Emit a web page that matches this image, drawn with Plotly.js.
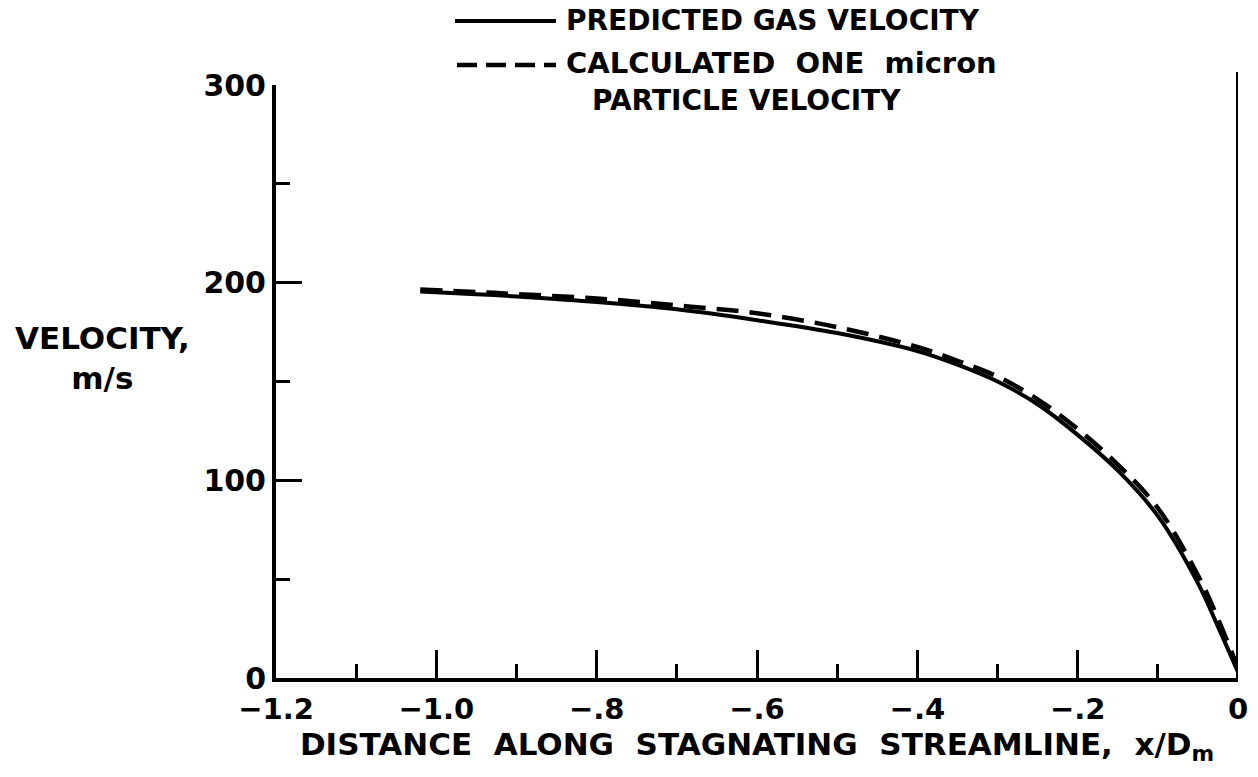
<!DOCTYPE html>
<html>
<head>
<meta charset="utf-8">
<script src="https://cdn.plot.ly/plotly-3.0.1.min.js"></script>
<style>html,body{margin:0;padding:0;background:#fff;}#chart{width:1258px;height:777px;}</style>
</head>
<body>
<div id="chart"></div>
<script>
// Distance along stagnating streamline, x/Dm
const xDist = [-1.02, -0.95, -0.9, -0.8, -0.7, -0.6, -0.5, -0.4, -0.35, -0.3, -0.25, -0.2, -0.15, -0.1, -0.05, -0.025, 0];
// Predicted gas velocity, m/s
const gasVelocity = [195.5, 194.2, 193, 190.2, 186.5, 181, 174.5, 165.4, 158.5, 150, 138.5, 123, 105, 82, 48, 26, 3];
// Calculated one micron particle velocity, m/s
const particleVelocity = [196.5, 195.3, 194.2, 192, 188.5, 184.5, 177.5, 167.5, 160.5, 152.5, 141, 126, 108, 86, 52, 30, 5];

const xTickVals = [-1.2, -1.0, -0.8, -0.6, -0.4, -0.2, 0];
const xTickText = ['\u22121.2', '\u22121.0', '\u2212.8', '\u2212.6', '\u2212.4', '\u2212.2', '0'];
const xMinorVals = [-1.1, -0.9, -0.7, -0.5, -0.3, -0.1];
const yTickVals = [0, 100, 200, 300];
const yTickText = ['0', '100', '200', '300'];
const yMinorVals = [50, 150, 250];

const legendSolid = 'PREDICTED GAS VELOCITY';
const legendDashed1 = 'CALCULATED  ONE  micron';
const legendDashed2 = 'PARTICLE VELOCITY';
const xTitle = 'DISTANCE  ALONG  STAGNATING  STREAMLINE,  x/D<sub>m</sub>';
const yTitle = 'VELOCITY,<br>m/s';

const FONT = 'DejaVu Sans, sans-serif';
const W = 1258, H = 777, L = 276, R = 20, T = 85, B = 99;
const pw = W - L - R, ph = H - T - B;
const px = v => (v - L) / pw;
const py = v => (H - B - v) / ph;

const traces = [
  {x: xDist, y: gasVelocity, mode: 'lines', line: {color: '#000', width: 4, shape: 'spline', smoothing: 1}, hoverinfo: 'skip'},
  {x: xDist, y: particleVelocity, mode: 'lines', line: {color: '#000', width: 4.5, dash: '22px,11px', shape: 'spline', smoothing: 1}, hoverinfo: 'skip'}
];

const layout = {
  width: W, height: H,
  margin: {l: L, r: R, t: T, b: B},
  paper_bgcolor: '#fff', plot_bgcolor: '#fff',
  showlegend: false,
  font: {family: FONT, color: '#000', size: 28, weight: 'bold'},
  xaxis: {
    range: [-1.2, 0], showgrid: false, zeroline: false,
    showline: true, linecolor: '#000', linewidth: 4,
    tickmode: 'array', tickvals: xTickVals, ticktext: xTickText,
    ticks: 'inside', ticklen: 28, tickwidth: 3, tickcolor: '#000',
    minor: {tickmode: 'array', tickvals: xMinorVals, ticks: 'inside', ticklen: 14, tickwidth: 3, tickcolor: '#000', showgrid: false},
    tickfont: {family: FONT, size: 29, color: '#000', weight: 'bold'},
    ticklabelstandoff: 2,
    title: {text: xTitle, font: {family: FONT, size: 31, color: '#000', weight: 'bold'}, standoff: 6}
  },
  yaxis: {
    range: [0, 300], showgrid: false, zeroline: false,
    showline: true, linecolor: '#000', linewidth: 4,
    tickmode: 'array', tickvals: yTickVals, ticktext: yTickText,
    ticks: 'inside', ticklen: 26, tickwidth: 3, tickcolor: '#000',
    minor: {tickmode: 'array', tickvals: yMinorVals, ticks: 'inside', ticklen: 14, tickwidth: 3, tickcolor: '#000', showgrid: false},
    tickfont: {family: FONT, size: 30, color: '#000', weight: 'bold'}
  },
  shapes: [
    {type: 'line', xref: 'x', yref: 'paper', x0: 0, x1: 0, y0: 0, y1: py(72), line: {color: '#000', width: 4}},
    {type: 'line', xref: 'paper', yref: 'paper', x0: px(455), x1: px(556), y0: py(21), y1: py(21), line: {color: '#000', width: 4}},
    {type: 'line', xref: 'paper', yref: 'paper', x0: px(457), x1: px(556), y0: py(65), y1: py(65), line: {color: '#000', width: 4.5, dash: '20px,9px'}}
  ],
  annotations: [
    {xref: 'paper', yref: 'paper', x: px(564), y: py(21), xanchor: 'left', yanchor: 'middle', text: legendSolid, showarrow: false, font: {family: FONT, size: 28, color: '#000', weight: 'bold'}},
    {xref: 'paper', yref: 'paper', x: px(564), y: py(63), xanchor: 'left', yanchor: 'middle', text: legendDashed1, showarrow: false, font: {family: FONT, size: 29, color: '#000', weight: 'bold'}},
    {xref: 'paper', yref: 'paper', x: px(590), y: py(101), xanchor: 'left', yanchor: 'middle', text: legendDashed2, showarrow: false, font: {family: FONT, size: 28, color: '#000', weight: 'bold'}},
    {xref: 'paper', yref: 'paper', x: px(102), y: py(358), xanchor: 'center', yanchor: 'middle', text: yTitle, showarrow: false, font: {family: FONT, size: 31, color: '#000', weight: 'bold'}}
  ]
};

Plotly.newPlot('chart', traces, layout, {staticPlot: true, displayModeBar: false});
</script>
</body>
</html>
